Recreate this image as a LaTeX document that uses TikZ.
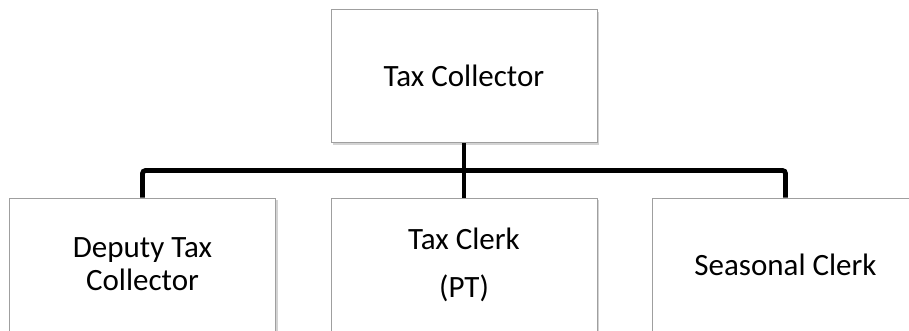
\documentclass[tikz,border=0pt]{standalone}
\usepackage{fontspec}
\setmainfont{Carlito}
\usetikzlibrary{shadows}
\begin{document}
\begin{tikzpicture}[x=1pt,y=1pt,
  box/.style={draw=gray!75, line width=0.8pt, fill=white, minimum width=266pt, minimum height=133pt,
    inner sep=0pt, align=center, font=\fontsize{31}{33}\selectfont,
    drop shadow={opacity=0.35, shadow xshift=2pt, shadow yshift=-2pt, fill=gray}},
  conn/.style={line width=4.8pt, rounded corners=3pt, draw=black}]
\useasboundingbox (0,0) rectangle (909,-330);
\node[box] (top) at (464,-76) {Tax Collector};
\node[box] (dep) at (142.5,-264.5) {Deputy Tax\\Collector};
\node[box] (clerk) at (464,-264.5) {Tax Clerk\\[15pt](PT)};
\node[box] (seas) at (785.5,-264.5) {Seasonal Clerk};
\coordinate (j) at (464,-170.5);
\draw[conn] (top.south) -- (j);
\draw[conn] (dep.north) |- (j) -| (seas.north);
\draw[conn] (j) -- (clerk.north);
\end{tikzpicture}
\end{document}
